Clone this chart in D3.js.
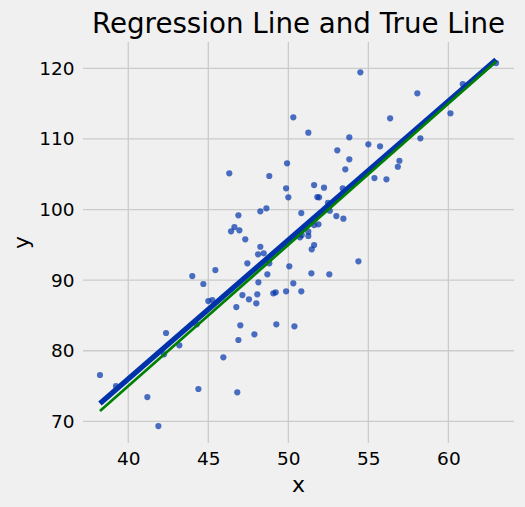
<!DOCTYPE html>
<html>
<head>
<meta charset="utf-8">
<script src="https://cdn.jsdelivr.net/npm/d3@7"></script>
<style>
  html, body { margin: 0; padding: 0; background: #f0f0f0; }
  svg { display: block; font-family: "DejaVu Sans", sans-serif; }
</style>
</head>
<body>
<svg id="chart" width="525" height="507"></svg>
<script>
// ---- data ----
const xValues = [
  38.23, 39.23, 41.19, 41.88, 42.36, 42.23, 43.19, 44.00, 44.69, 44.38,
  44.28, 45.00, 45.25, 45.44, 45.94, 49.92, 46.31, 48.81, 49.86, 50.00,
  51.61, 48.25, 48.63, 46.88, 50.81, 46.63, 46.42, 46.94, 47.31, 48.25,
  48.11, 48.46, 48.81, 47.44, 48.69, 50.06, 51.44, 48.13, 50.31, 50.81,
  47.13, 47.54, 48.06, 49.06, 49.21, 49.86, 51.25, 51.25, 51.46, 51.61,
  51.61, 48.00, 46.75, 47.00, 47.88, 49.25, 50.38, 46.88, 46.81, 54.50,
  56.36, 51.25, 53.81, 55.00, 55.73, 53.06, 53.81, 53.56, 55.38, 56.13,
  56.94, 56.84, 52.23, 53.40, 51.81, 51.92, 52.59, 53.00, 53.44, 52.48,
  51.88, 50.84, 54.38, 52.56, 62.98, 60.90, 58.06, 60.13, 58.25, 50.31,
  50.73
];
const yValues = [
  76.56, 75.00, 73.44, 69.33, 82.51, 79.49, 80.76, 90.58, 89.45, 74.58,
  83.74, 87.04, 87.18, 91.43, 79.07, 106.54, 105.13, 104.75, 103.00, 101.73,
  103.47, 99.75, 100.17, 99.18, 99.50, 97.52, 96.91, 97.05, 95.78, 94.73,
  93.65, 93.80, 92.38, 92.38, 90.82, 91.95, 90.96, 89.69, 89.55, 88.41,
  87.89, 87.28, 87.99, 88.13, 88.27, 88.41, 96.86, 96.25, 94.36, 94.97,
  97.80, 86.71, 86.19, 83.60, 82.32, 83.74, 83.46, 81.52, 74.11, 119.43,
  112.92, 110.88, 110.23, 109.24, 108.95, 108.39, 107.11, 105.69, 104.46, 104.28,
  106.91, 106.06, 103.09, 103.00, 101.77, 101.73, 99.83, 99.08, 98.70, 100.96,
  97.90, 96.39, 92.66, 90.82, 120.75, 117.78, 116.46, 113.63, 110.08, 113.06,
  96.06
];
// line coefficients (regression line, true line y = 2x - 5)
const fitLine = [1.966, -2.62];   // slope, intercept
const trueLine = [2, -5];         // slope, intercept
const xTicks = [40, 45, 50, 55, 60];
const yTicks = [70, 80, 90, 100, 110, 120];
const titleText = "Regression Line and True Line";

(function () {
  const W = 525, H = 507;
  const pL = 83, pR = 514, pT = 42, pB = 443;
  const svg = d3.select("#chart");
  svg.append("rect").attr("width", W).attr("height", H).attr("fill", "#f0f0f0");

  const x = d3.scaleLinear().domain([37.17, 64.1]).range([pL, pR]);
  const y = d3.scaleLinear().domain([66.93, 123.73]).range([pB, pT]);

  // grid
  const grid = svg.append("g");
  grid.selectAll("line.vx").data(xTicks).join("line").attr("class", "vx")
    .attr("x1", d => x(d)).attr("x2", d => x(d))
    .attr("y1", pT).attr("y2", pB)
    .attr("stroke", "#cbcbcb").attr("stroke-width", 1.3);
  grid.selectAll("line.hy").data(yTicks).join("line").attr("class", "hy")
    .attr("y1", d => y(d)).attr("y2", d => y(d))
    .attr("x1", pL).attr("x2", pR)
    .attr("stroke", "#cbcbcb").attr("stroke-width", 1.3);

  // axes (labels only)
  const xAxis = d3.axisBottom(x).tickValues(xTicks).tickSize(0).tickPadding(10);
  const gx = svg.append("g").attr("transform", `translate(0,${pB})`).call(xAxis);
  gx.select(".domain").remove();
  gx.selectAll("text").attr("font-size", 18.5).attr("fill", "#000")
    .attr("font-family", "DejaVu Sans").attr("dy", "0.71em").attr("y", 9);

  const yAxis = d3.axisLeft(y).tickValues(yTicks).tickSize(0).tickPadding(8.5);
  const gy = svg.append("g").attr("transform", `translate(${pL},0)`).call(yAxis);
  gy.select(".domain").remove();
  gy.selectAll("text").attr("font-size", 18.5).attr("fill", "#000")
    .attr("font-family", "DejaVu Sans");

  // points
  const pts = xValues.map((v, i) => ({x: v, y: yValues[i]}));
  svg.append("g").selectAll("circle").data(pts).join("circle")
    .attr("cx", d => x(d.x)).attr("cy", d => y(d.y)).attr("r", 3.1)
    .attr("fill", "#0033aa").attr("fill-opacity", 0.7);

  // lines
  const xExt = d3.extent(xValues);
  const lineGen = d3.line().x(d => x(d[0])).y(d => y(d[1]));
  function drawLine(coef, color, width) {
    const dat = xExt.map(v => [v, coef[0] * v + coef[1]]);
    svg.append("path").datum(dat).attr("d", lineGen)
      .attr("fill", "none").attr("stroke", color).attr("stroke-width", width);
  }
  drawLine(fitLine, "#0033aa", 5.3);
  drawLine(trueLine, "#008000", 2.7);

  // title & labels
  svg.append("text").attr("x", (pL + pR) / 2).attr("y", 32.5)
    .attr("text-anchor", "middle").attr("font-size", 27.7).attr("fill", "#000")
    .text(titleText);
  svg.append("text").attr("x", (pL + pR) / 2).attr("y", 492)
    .attr("text-anchor", "middle").attr("font-size", 22).attr("fill", "#000")
    .text("x");
  svg.append("text").attr("transform", `translate(28.5,${(pT + pB) / 2}) rotate(-90)`)
    .attr("text-anchor", "middle").attr("font-size", 22).attr("fill", "#000")
    .text("y");
})();
</script>
</body>
</html>
